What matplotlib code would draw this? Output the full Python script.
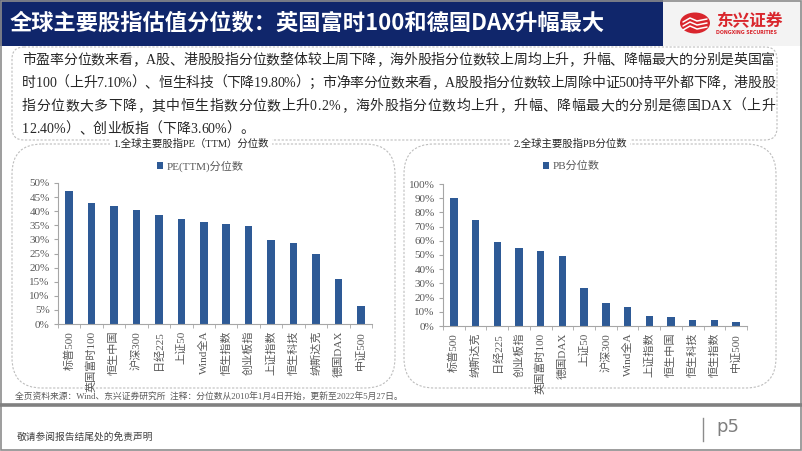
import matplotlib
matplotlib.use("agg")
import matplotlib.pyplot as plt
from matplotlib.patches import FancyBboxPatch, Rectangle, Ellipse
from matplotlib.font_manager import FontProperties
from matplotlib.ticker import MultipleLocator, PercentFormatter

W, H = 802, 451

# data (percent)
pe_names = ['标普500', '英国富时100', '恒生中国', '沪深300', '日经225', '上证50', 'Wind全A',
            '恒生指数', '创业板指', '上证指数', '恒生科技', '纳斯达克', '德国DAX', '中证500']
pe_values = [47.1, 42.8, 41.8, 40.3, 38.6, 37.4, 36.3, 35.5, 34.7, 29.7, 28.8, 24.8, 15.9, 6.3]

pb_names = ['标普500', '纳斯达克', '日经225', '创业板指', '英国富时100', '德国DAX', '上证50',
            '沪深300', 'Wind全A', '上证指数', '恒生中国', '恒生科技', '恒生指数', '中证500']
pb_values = [90.1, 74.9, 58.9, 54.9, 53.0, 49.3, 26.8, 15.9, 13.1, 7.0, 6.1, 4.4, 3.9, 2.5]

title = '全球主要股指估值分位数：英国富时100和德国DAX升幅最大'
body_lines = [
    '市盈率分位数来看，A股、港股股指分位数整体较上周下降，海外股指分位数较上周均上升，升幅、降幅最大的分别是英国富',
    '时100（上升7.10%）、恒生科技（下降19.80%）；市净率分位数来看，A股股指分位数较上周除中证500持平外都下降，港股股',
    '指分位数大多下降，其中恒生指数分位数上升0.2%，海外股指分位数均上升，升幅、降幅最大的分别是德国DAX（上升',
    '12.40%）、创业板指（下降3.60%）。',
]
source_note = '全页资料来源：Wind、东兴证券研究所  注释：分位数从2010年1月4日开始，更新至2022年5月27日。'

SANS = ['Noto Sans CJK SC', 'DejaVu Sans']
SERIF = ['Liberation Serif', 'Noto Sans CJK SC']
BAR = '#2E5A96'
GREY_TXT = '#595959'

fig = plt.figure(figsize=(W / 100, H / 100), dpi=100)
bg = fig.add_axes([0, 0, 1, 1])
bg.set_xlim(0, W)
bg.set_ylim(H, 0)
bg.axis('off')

# header band + logo area
bg.add_patch(Rectangle((0, 0), 663, 46, fc='#10266b', ec='none'))
bg.add_patch(Rectangle((663, 0), W - 663, 46, fc='#f3f3f3', ec='none'))
bg.text(10, 23, title, color='white', fontsize=16, fontweight='bold',
        family=SANS, va='center', ha='left')
bg.add_patch(Ellipse((695, 23), 30, 21, fc='#d9262d', ec='none'))
for dy in (-3, 1, 5):
    bg.plot([683, 690, 697, 707], [23 + dy + 2, 23 + dy - 2, 23 + dy + 1, 23 + dy - 1],
            color='white', lw=1.1, solid_capstyle='round')
bg.text(716, 21, '东兴证券', color='#d9262d', fontsize=12, fontweight='bold',
        family=SANS, va='center', ha='left')
bg.text(716, 33, 'DONGXING SECURITIES', color='#d9262d', fontsize=3.4,
        fontweight='bold', family=['DejaVu Sans'], va='center', ha='left')

# slide frame and footer
bg.add_patch(Rectangle((0.8, 0.8), W - 1.6, H - 1.6, fc='none', ec='#8c8c8c', lw=1.2))
bg.plot([0, W], [405, 405], color='#808080', lw=2.6)
bg.text(17, 437, '敬请参阅报告结尾处的免责声明', fontsize=7, color='#404040',
        family=SERIF, va='center', ha='left')
bg.plot([703, 703], [418, 441], color='#8c8c8c', lw=1)
bg.text(716, 427, 'p5', fontsize=13, color='#7f7f7f', family=['DejaVu Sans'],
        va='center', ha='left')

# dashed rounded boxes
dash = (0, (2, 1.5))
for (x0, y0, x1, y1, rad) in [(12, 47, 777, 140, 12), (12, 144, 395, 388, 30), (404, 144, 776, 388, 30)]:
    bg.add_patch(FancyBboxPatch((x0, y0), x1 - x0, y1 - y0,
                                boxstyle='round,pad=0,rounding_size=%d' % rad,
                                fc='none', ec='#bdbdbd', lw=0.8, ls=dash))

# justified body text, placed character by character
rend = fig.canvas.get_renderer()
fp = FontProperties(family=SERIF, size=10)
left, right = 22, 775
baselines = [64, 87, 110, 133]
gaps = []
widths = []
for line in body_lines:
    ws = [rend.get_text_width_height_descent(c, fp, ismath=False)[0] for c in line]
    widths.append(ws)
    gaps.append((right - left - sum(ws)) / (len(line) - 1))
for i, line in enumerate(body_lines):
    gap = gaps[i] if i < len(body_lines) - 1 else sum(gaps[:-1]) / len(gaps[:-1])
    x = left
    for c, w in zip(line, widths[i]):
        bg.text(x, baselines[i], c, fontproperties=fp, color='#262626',
                va='baseline', ha='left')
        x += w + gap

bg.text(15, 397, source_note, fontsize=6.3, color=GREY_TXT, family=SERIF,
        va='center', ha='left')

# panel titles and legends
box_white = dict(fc='white', ec='none', pad=2)
bg.text(191, 144, '1.全球主要股指PE（TTM）分位数', fontsize=7.5, color='#262626',
        family=SERIF, ha='center', va='center', bbox=box_white)
bg.text(570, 144, '2.全球主要股指PB分位数', fontsize=7.5, color='#262626',
        family=SERIF, ha='center', va='center', bbox=box_white)


def add_chart(rect, names, values, ymax, step, legend, legend_xy):
    x0, y0, x1, y1 = rect
    ax = fig.add_axes([x0 / W, 1 - y1 / H, (x1 - x0) / W, (y1 - y0) / H])
    ax.patch.set_alpha(0)
    pos = range(len(names))
    ax.bar(pos, values, width=0.34, color=BAR, label=legend)
    ax.set_xlim(-0.5, len(names) - 0.5)
    ax.set_ylim(0, ymax)
    ax.yaxis.set_major_locator(MultipleLocator(step))
    ax.yaxis.set_major_formatter(PercentFormatter(decimals=0))
    ax.set_xticks(list(pos))
    ax.set_xticklabels(names, rotation=90, family=SERIF, fontsize=8, color=GREY_TXT)
    ax.set_xticks([p - 0.5 for p in range(len(names) + 1)], minor=True)
    ax.tick_params(axis='x', which='major', length=0, pad=5)
    ax.tick_params(axis='x', which='minor', length=3, color='#a6a6a6')
    ax.tick_params(axis='y', length=3, color='#a6a6a6', labelsize=8,
                   labelcolor=GREY_TXT, pad=3)
    for lab in ax.get_yticklabels():
        lab.set_family(SERIF)
    for s in ('top', 'right'):
        ax.spines[s].set_visible(False)
    for s in ('left', 'bottom'):
        ax.spines[s].set_color('#a6a6a6')
        ax.spines[s].set_linewidth(0.8)
    lx, ly = legend_xy
    ax.legend(loc='center', bbox_to_anchor=(lx / W, 1 - ly / H),
              bbox_transform=fig.transFigure, frameon=False, handlelength=0.6,
              handleheight=0.6, handletextpad=0.3,
              prop=FontProperties(family=SERIF, size=8))
    for t in ax.get_legend().get_texts():
        t.set_color(GREY_TXT)
    return ax


add_chart((58, 183, 372, 324), pe_names, pe_values, 50, 5, 'PE(TTM)分位数', (200, 166))
add_chart((443, 184, 747, 326), pb_names, pb_values, 100, 10, 'PB分位数', (571, 166))

fig.savefig('out.png', dpi=100)
